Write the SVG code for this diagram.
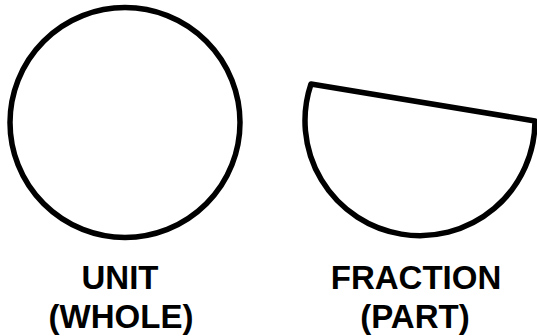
<svg xmlns="http://www.w3.org/2000/svg" width="537" height="336" viewBox="0 0 537 336">
<style>
.shape{fill:none;stroke:#000;stroke-width:5.5;stroke-linejoin:round}
.lbl{font-family:"Liberation Sans",Arial,sans-serif;font-weight:bold;font-size:33px;fill:#000;text-anchor:middle}
</style>
<rect width="537" height="336" fill="#fff"/>
<g id="unit">
<circle class="shape" cx="125" cy="122.5" r="115"/>
<text class="lbl" x="120" y="289">UNIT</text>
<text class="lbl" x="121" y="328">(WHOLE)</text>
</g>
<g id="fraction">
<path class="shape" d="M311 84 A115 115 0 1 0 535 121 Z"/>
<text class="lbl" x="416" y="289">FRACTION</text>
<text class="lbl" x="415" y="328">(PART)</text>
</g>
</svg>
